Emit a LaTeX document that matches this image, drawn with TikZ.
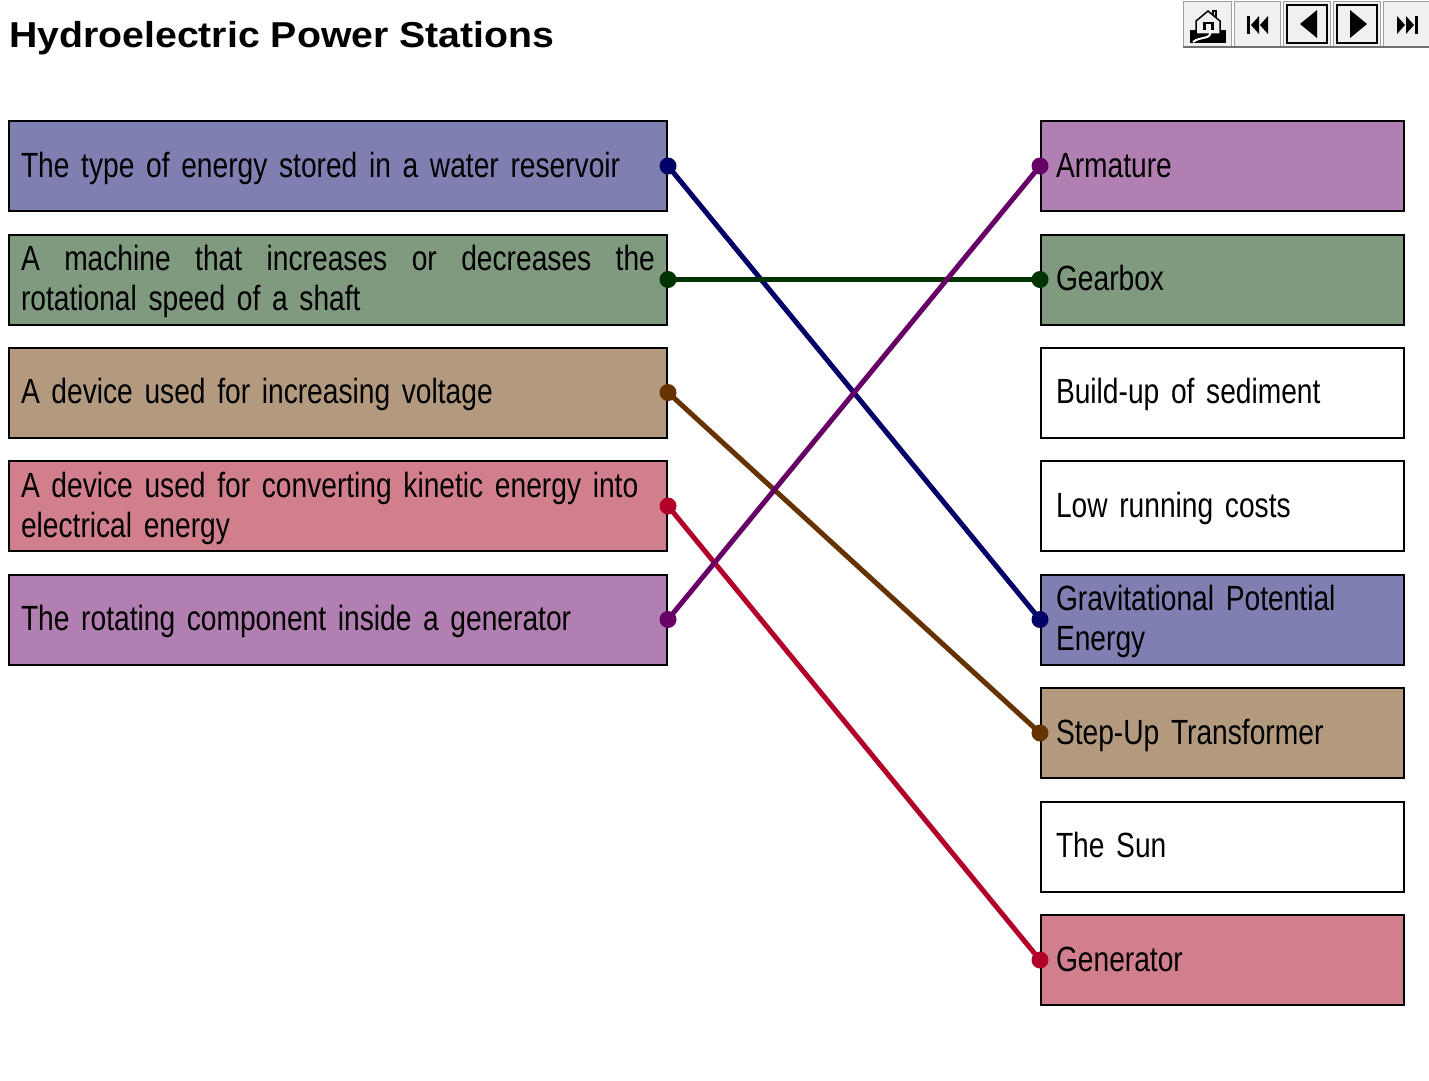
\documentclass[tikz,border=0pt]{standalone}
\usepackage{fontspec}
\setmainfont[FakeStretch=0.805]{Liberation Sans}
\newfontfamily\titlefont[FakeStretch=1.09]{Liberation Sans}
\definecolor{cBlue}{RGB}{127,127,178}
\definecolor{cGreen}{RGB}{127,154,127}
\definecolor{cBrown}{RGB}{179,154,127}
\definecolor{cPink}{RGB}{209,127,140}
\definecolor{cPurple}{RGB}{178,127,178}
\definecolor{lBlue}{RGB}{0,0,102}
\definecolor{lGreen}{RGB}{0,51,0}
\definecolor{lBrown}{RGB}{102,51,0}
\definecolor{lRed}{RGB}{178,0,43}
\definecolor{lPurple}{RGB}{102,0,102}
\definecolor{btn}{RGB}{240,240,240}
\definecolor{btnedge}{RGB}{160,160,160}
\tikzset{
  box/.style={draw=black, line width=2pt, rectangle, minimum height=90pt,
    font=\fontsize{35}{40}\selectfont, align=left, inner ysep=0pt},
  lbox/.style={box, minimum width=658pt, text width=634pt, inner xsep=12pt},
  rbox/.style={box, minimum width=363pt, text width=333pt, inner xsep=15pt},
  oneline/.style={text height=30pt, text depth=8pt},
  twoline/.style={text height=30pt, text depth=48pt},
  link/.style={line width=5pt},
  dot/.style={circle, inner sep=0pt, minimum size=17pt},
  navbtn/.style={draw=btnedge, fill=btn, line width=1pt}
}
\begin{document}
\begin{tikzpicture}[x=1pt,y=-1pt]
\useasboundingbox (0,0) rectangle (1429,1080);
\fill[white] (0,0) rectangle (1429,1080);
% title
\node[anchor=base west, inner sep=0pt, font=\titlefont\bfseries\fontsize{36}{40}\selectfont] (title) at (9,47) {Hydroelectric Power Stations};
% navigation buttons
\draw[navbtn] (1183,1) rectangle (1231,46);
\draw[navbtn] (1234,1) rectangle (1280,46);
\draw[navbtn] (1283,1) rectangle (1330,46);
\draw[navbtn] (1333,1) rectangle (1380,46);
\draw[navbtn] (1383,1) rectangle (1429,46);
\draw[line width=2pt, btnedge!70!black] (1183,47) -- (1429,47);
% home icon
\fill[black] (1190,30) rectangle (1226,43);
\draw[black, line width=1.5pt, fill=btn] (1196,34) -- (1196,21) -- (1208,11) -- (1220,21) -- (1220,34) -- cycle;
\draw[black, line width=1.5pt] (1213,15) -- (1213,11) -- (1216,11) -- (1216,18);
\fill[black] (1203,22) rectangle (1214,30);
\fill[btn] (1206,24) rectangle (1211,30);
\draw[white, line width=2pt] (1193,42) .. controls (1200,36) and (1212,40) .. (1210,31);
% first
\fill[black] (1247,16) rectangle (1250,34);
\fill[black] (1259,16) -- (1251,25) -- (1259,34) -- cycle;
\fill[black] (1268,16) -- (1260,25) -- (1268,34) -- cycle;
% prev
\draw[black, line width=1.5pt] (1287,5) rectangle (1327,43);
\fill[black] (1317,10) -- (1300,24) -- (1317,38) -- cycle;
% next
\draw[black, line width=1.5pt] (1337,5) rectangle (1377,43);
\fill[black] (1350,10) -- (1367,24) -- (1350,38) -- cycle;
% last
\fill[black] (1397,16) -- (1405,25) -- (1397,34) -- cycle;
\fill[black] (1406,16) -- (1414,25) -- (1406,34) -- cycle;
\fill[black] (1415,16) rectangle (1418,34);
% left boxes
\node[lbox, oneline, fill=cBlue]   (l1) at (338,166) {The type of energy stored in a water reservoir};
\node[lbox, twoline, fill=cGreen]  (l2) at (338,279.5) {\hbox to 634pt{A\hfill machine\hfill that\hfill increases\hfill or\hfill decreases\hfill the}\\rotational speed of a shaft};
\node[lbox, oneline, fill=cBrown]  (l3) at (338,392.5) {A device used for increasing voltage};
\node[lbox, twoline, fill=cPink]   (l4) at (338,506) {\mbox{A device used for converting kinetic energy into}\\electrical energy};
\node[lbox, oneline, fill=cPurple] (l5) at (338,619.5) {The rotating component inside a generator};
% right boxes
\node[rbox, oneline, fill=cPurple] (r1) at (1222.5,166) {Armature};
\node[rbox, oneline, fill=cGreen]  (r2) at (1222.5,279.5) {Gearbox};
\node[rbox, oneline, fill=white]   (r3) at (1222.5,392.5) {Build-up of sediment};
\node[rbox, oneline, fill=white]   (r4) at (1222.5,506) {Low running costs};
\node[rbox, twoline, fill=cBlue]   (r5) at (1222.5,619.5) {\mbox{Gravitational Potential}\\Energy};
\node[rbox, oneline, fill=cBrown]  (r6) at (1222.5,733) {Step-Up Transformer};
\node[rbox, oneline, fill=white]   (r7) at (1222.5,846.5) {The Sun};
\node[rbox, oneline, fill=cPink]   (r8) at (1222.5,960) {Generator};
% links
\draw[link, lBlue]   (l1.east) -- (r5.west);
\draw[link, lGreen]  (l2.east) -- (r2.west);
\draw[link, lBrown]  (l3.east) -- (r6.west);
\draw[link, lRed]    (l4.east) -- (r8.west);
\draw[link, lPurple] (l5.east) -- (r1.west);
% dots
\node[dot, fill=lBlue]   (d1) at (l1.east) {};
\node[dot, fill=lGreen]  (d2) at (l2.east) {};
\node[dot, fill=lBrown]  (d3) at (l3.east) {};
\node[dot, fill=lRed]    (d4) at (l4.east) {};
\node[dot, fill=lPurple] (d5) at (l5.east) {};
\node[dot, fill=lPurple] (e1) at (r1.west) {};
\node[dot, fill=lGreen]  (e2) at (r2.west) {};
\node[dot, fill=lBlue]   (e5) at (r5.west) {};
\node[dot, fill=lBrown]  (e6) at (r6.west) {};
\node[dot, fill=lRed]    (e8) at (r8.west) {};
\end{tikzpicture}
\end{document}
